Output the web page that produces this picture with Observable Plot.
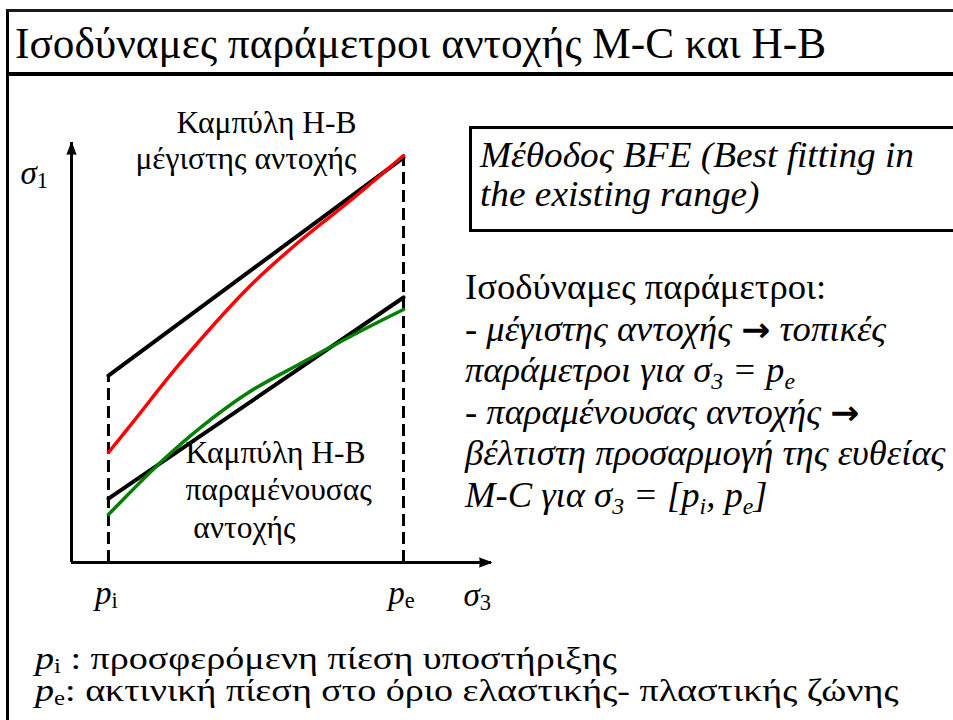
<!DOCTYPE html>
<html>
<head>
<meta charset="utf-8">
<script src="https://cdn.jsdelivr.net/npm/d3@7"></script>
<script src="https://cdn.jsdelivr.net/npm/@observablehq/plot@0.6"></script>
<style>
  html, body { margin: 0; padding: 0; background: #fff; }
  body {
    width: 953px; height: 720px; position: relative; overflow: hidden;
    font-family: "Liberation Serif", "Times New Roman", Times, Tinos, "Nimbus Roman", "FreeSerif", "Noto Serif", "DejaVu Serif", serif;
    color: #000;
  }
  .frame {
    position: absolute; left: 6px; top: 9px; width: 1000px; height: 800px;
    border-left: 3px solid #000; border-top: 3px solid #1a1a1a;
  }
  .title-rule { position: absolute; left: 6px; top: 72px; width: 1000px; height: 4px; background: #000; }
  .title {
    position: absolute; left: 15px; top: 21px; font-size: 43.3px; line-height: 44px; white-space: nowrap;
  }
  #chart { position: absolute; left: 0; top: 80px; }
  .method {
    position: absolute; left: 469px; top: 126px; width: 600px; height: 106px; box-sizing: border-box;
    border: 3px solid #000; padding: 7.4px 0 0 8px;
    font-style: italic; font-size: 35px; line-height: 39px; white-space: nowrap;
  }
  .method span { display: inline-block; transform: scaleX(1.065); transform-origin: left center; }
  .params {
    position: absolute; left: 465px; top: 267px;
    font-size: 35px; line-height: 41.6px; white-space: nowrap;
    transform: scaleX(1.045); transform-origin: left top;
  }
  .params i { font-style: italic; }
  .arrow { font-family: "DejaVu Sans", sans-serif; font-weight: bold; font-size: 0.95em; font-style: normal; }
  .sub { font-size: 0.65em; position: relative; top: 0.3em; line-height: 0; }
  .caption {
    position: absolute; left: 35px; top: 641.6px;
    font-size: 32px; line-height: 32.5px; white-space: nowrap;
    transform: scaleX(1.19); transform-origin: left top;
  }
  .caption .sub { font-style: normal; top: 0.2em; }
</style>
</head>
<body>
<div class="frame"></div>
<div class="title-rule"></div>
<div class="title">Ισοδύναμες παράμετροι αντοχής M-C και H-B</div>
<div id="chart"></div>
<div class="method"><span>Μέθοδος BFE (Best fitting in</span><br><span>the existing range)</span></div>
<div class="params">
  Ισοδύναμες παράμετροι:<br>
  - <i>μέγιστης αντοχής</i> <span class="arrow">→</span> <i>τοπικές</i><br>
  <i>παράμετροι για σ<span class="sub">3</span> = p<span class="sub">e</span></i><br>
  - <i>παραμένουσας αντοχής</i> <span class="arrow">→</span><br>
  <i>βέλτιστη προσαρμογή της ευθείας</i><br>
  <i>M-C για σ<span class="sub">3</span> = [p<span class="sub">i</span>, p<span class="sub">e</span>]</i>
</div>
<div class="caption">
  <i>p</i><span class="sub">i</span> : προσφερόμενη πίεση υποστήριξης<br>
  <i>p</i><span class="sub">e</span>: ακτινική πίεση στο όριο ελαστικής- πλαστικής ζώνης
</div>
<script>
// Schematic axes run from 0 to axisMax in both σ3 and σ1
const axisMax = 100;

// Support pressure p_i and elastic-plastic boundary pressure p_e on the σ3 axis
const pressureKeys = ["p_i", "p_e"];
const pressureValues = [8.8, 79.05];

// Equivalent M-C straight lines: σ1 at p_i and at p_e
const peakLineS1 = [44.5, 96.4];
const residualLineS1 = [15.2, 63.1];

// H-B peak strength curve
const peakCurveS3 = [8.81, 14.76, 26.43, 42.62, 54.52, 66.43, 79.05];
const peakCurveS1 = [26.19, 33.57, 48.10, 65.95, 76.67, 86.19, 96.90];

// H-B residual strength curve
const residualCurveS3 = [8.81, 21.67, 30.71, 42.14, 54.52, 62.38, 70.48, 79.05];
const residualCurveS1 = [11.43, 24.29, 32.14, 40.48, 47.38, 51.67, 55.95, 60.24];

// Text drawn inside the chart
const axisLabels = ["σ_1", "σ_3"];
const curveLabels = [
  "Καμπύλη H-B\nμέγιστης αντοχής",
  "Καμπύλη H-B\nπαραμένουσας\n\u00a0αντοχής"
];

const zipXY = (xs, ys) => xs.map((x, i) => ({x, y: ys[i]}));
const peakLine = zipXY(pressureValues, peakLineS1);
const residualLine = zipXY(pressureValues, residualLineS1);
const peakCurve = zipXY(peakCurveS3, peakCurveS1);
const residualCurve = zipXY(residualCurveS3, residualCurveS1);
const serif = getComputedStyle(document.body).fontFamily;

const chart = Plot.plot({
  width: 520,
  height: 540,
  marginLeft: 71,
  marginRight: 29,
  marginTop: 62,
  marginBottom: 58,
  x: {domain: [0, axisMax], axis: null},
  y: {domain: [0, axisMax], axis: null},
  style: {background: "transparent", overflow: "visible", fontFamily: serif},
  marks: [
    // dashed verticals from the σ3 axis up to the peak line
    Plot.ruleX(peakLine, {x: "x", y1: 0, y2: "y", stroke: "#000", strokeWidth: 3, strokeDasharray: "12,6"}),
    // axes with arrowheads
    Plot.ruleY([0], {stroke: "#000", strokeWidth: 3}),
    Plot.ruleX([0], {stroke: "#000", strokeWidth: 3}),
    Plot.vector([{x: 0, y: axisMax, a: 0}, {x: axisMax, y: 0, a: 90}], {
      x: "x", y: "y", rotate: "a", length: 12, r: 4.5, shape: "spike", anchor: "end",
      fill: "#000", stroke: "#000", strokeWidth: 1
    }),
    // equivalent M-C lines
    Plot.line(peakLine, {x: "x", y: "y", stroke: "#000", strokeWidth: 4}),
    Plot.line(residualLine, {x: "x", y: "y", stroke: "#000", strokeWidth: 4}),
    // H-B curves
    Plot.line(peakCurve, {x: "x", y: "y", curve: "catmull-rom", stroke: "#ff0000", strokeWidth: 3.5}),
    Plot.line(residualCurve, {x: "x", y: "y", curve: "catmull-rom", stroke: "#008000", strokeWidth: 3.5}),
    // axis titles and pressure labels
    Plot.text([axisLabels[0]], {
      x: 0, y: axisMax, text: d => d, textAnchor: "start", lineAnchor: "bottom",
      dx: -51, dy: 41, fontSize: 33, fontFamily: serif, fill: "#000"
    }),
    Plot.text([axisLabels[1]], {
      x: axisMax, y: 0, text: d => d, textAnchor: "start", lineAnchor: "bottom",
      dx: -28, dy: 43, fontSize: 33, fontFamily: serif, fill: "#000"
    }),
    Plot.text(pressureKeys, {
      x: (d, i) => pressureValues[i], y: 0, text: d => d, textAnchor: "middle", lineAnchor: "bottom",
      dx: -2, dy: 41, fontSize: 33, fontFamily: serif, fill: "#000"
    }),
    // curve captions
    Plot.text([curveLabels[0]], {
      x: pressureValues[1], y: peakLineS1[1], text: d => d, textAnchor: "end", lineAnchor: "bottom",
      lineHeight: 1.12, dx: -47, dy: 11, fontSize: 31.5, fontFamily: serif, fill: "#000"
    }),
    Plot.text([curveLabels[1]], {
      x: pressureValues[0], y: residualLineS1[0], text: d => d, textAnchor: "start", lineAnchor: "bottom",
      lineHeight: 1.19, dx: 77, dy: 39, fontSize: 31.5, fontFamily: serif, fill: "#000"
    })
  ]
});

// Italic base letter with an upright, lowered subscript ("p_i" → p with subscript i)
const svgNS = "http://www.w3.org/2000/svg";
chart.querySelectorAll("text").forEach(t => {
  if (t.children.length || !t.textContent.includes("_")) return;
  const [base, sub] = t.textContent.split("_");
  t.textContent = "";
  const b = document.createElementNS(svgNS, "tspan");
  b.setAttribute("font-style", "italic");
  b.textContent = base;
  const s = document.createElementNS(svgNS, "tspan");
  s.setAttribute("font-size", "0.68em");
  s.setAttribute("dy", "0.18em");
  s.textContent = sub;
  t.append(b, s);
});

document.getElementById("chart").append(chart);
</script>
</body>
</html>
